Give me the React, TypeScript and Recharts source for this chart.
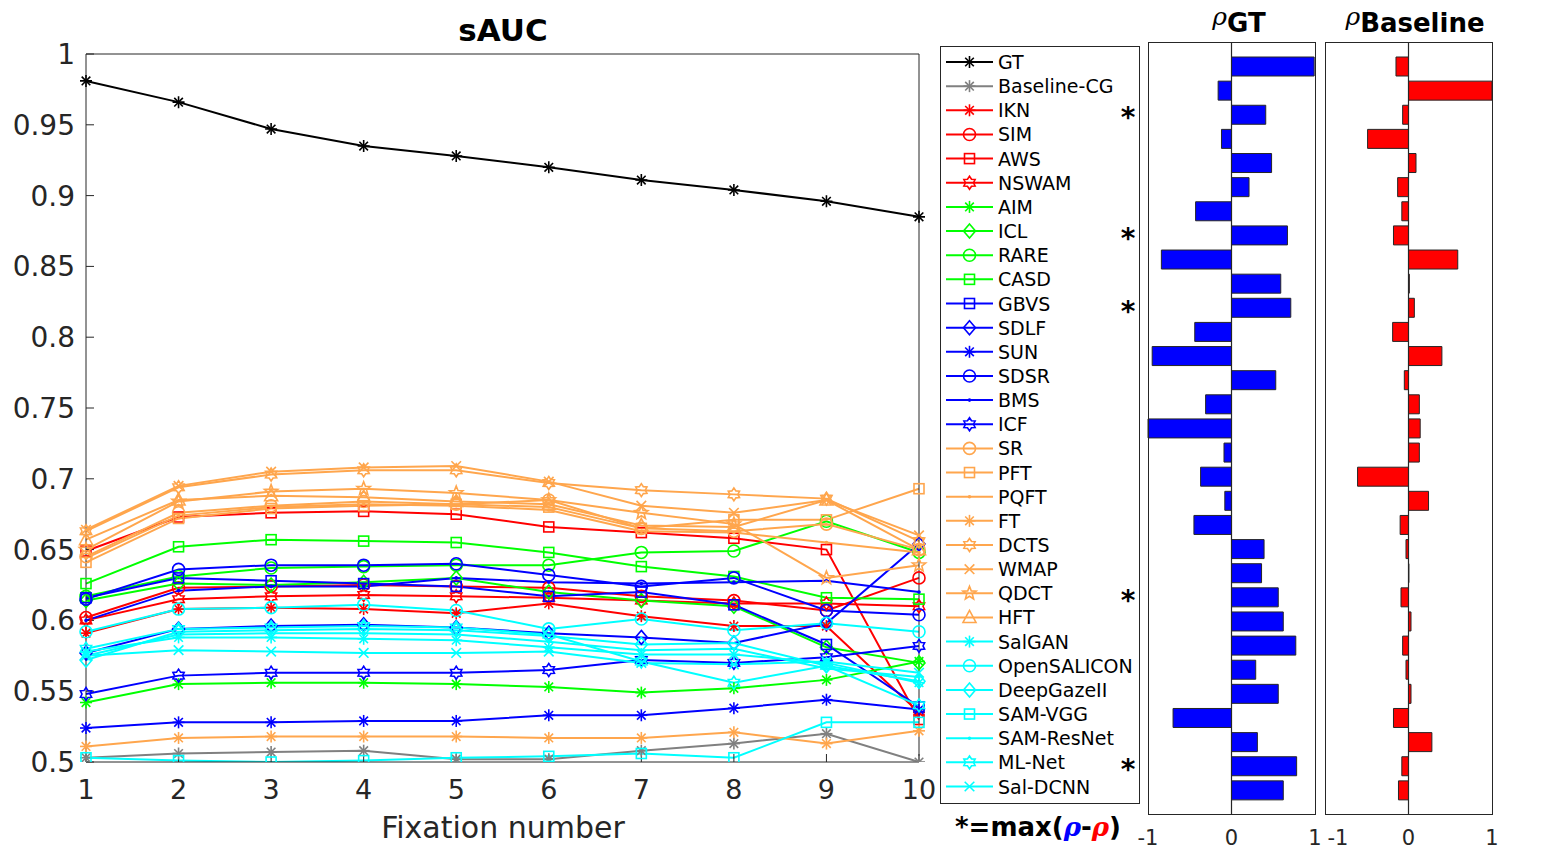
import React from 'react';
import { LineChart, Line, XAxis, YAxis, BarChart, Bar, ReferenceLine } from 'recharts';

const fixations = [1, 2, 3, 4, 5, 6, 7, 8, 9, 10];
const yTicks = [0.5, 0.55, 0.6, 0.65, 0.7, 0.75, 0.8, 0.85, 0.9, 0.95, 1];
const rhoTicks = [-1, 0, 1];

// sAUC per fixation number
const gt = [0.981, 0.966, 0.947, 0.935, 0.928, 0.920, 0.911, 0.904, 0.896, 0.885];
const baselineCG = [0.503, 0.506, 0.507, 0.508, 0.502, 0.502, 0.508, 0.513, 0.520, 0.500];
const ikn = [0.591, 0.608, 0.609, 0.608, 0.605, 0.612, 0.603, 0.596, 0.596, 0.535];
const sim = [0.602, 0.623, 0.624, 0.625, 0.624, 0.623, 0.617, 0.614, 0.607, 0.630];
const aws = [0.649, 0.673, 0.676, 0.677, 0.675, 0.666, 0.662, 0.658, 0.650, 0.530];
const nswam = [0.600, 0.615, 0.617, 0.618, 0.617, 0.616, 0.614, 0.612, 0.612, 0.610];
const aim = [0.542, 0.555, 0.556, 0.556, 0.555, 0.553, 0.549, 0.552, 0.558, 0.571];
const icl = [0.614, 0.626, 0.625, 0.627, 0.630, 0.620, 0.614, 0.610, 0.581, 0.570];
const rare = [0.617, 0.631, 0.637, 0.638, 0.639, 0.639, 0.648, 0.649, 0.670, 0.648];
const casd = [0.626, 0.652, 0.657, 0.656, 0.655, 0.648, 0.638, 0.631, 0.616, 0.615];
const gbvs = [0.616, 0.630, 0.628, 0.626, 0.624, 0.617, 0.620, 0.611, 0.583, 0.539];
const sdlf = [0.577, 0.594, 0.596, 0.597, 0.595, 0.591, 0.588, 0.584, 0.598, 0.654];
const sun = [0.524, 0.528, 0.528, 0.529, 0.529, 0.533, 0.533, 0.538, 0.544, 0.537];
const sdsr = [0.615, 0.636, 0.639, 0.639, 0.640, 0.632, 0.624, 0.630, 0.607, 0.604];
const bms = [0.600, 0.621, 0.624, 0.624, 0.630, 0.627, 0.626, 0.627, 0.628, 0.620];
const icf = [0.548, 0.561, 0.563, 0.563, 0.563, 0.565, 0.572, 0.570, 0.574, 0.582];
const sr = [0.645, 0.676, 0.681, 0.684, 0.682, 0.685, 0.665, 0.663, 0.668, 0.650];
const pft = [0.641, 0.672, 0.679, 0.681, 0.682, 0.680, 0.665, 0.671, 0.671, 0.693];
const pqft = [0.644, 0.674, 0.680, 0.682, 0.681, 0.678, 0.663, 0.662, 0.655, 0.648];
const ft = [0.511, 0.517, 0.518, 0.518, 0.518, 0.517, 0.517, 0.521, 0.513, 0.522];
const dcts = [0.663, 0.694, 0.703, 0.706, 0.706, 0.697, 0.692, 0.689, 0.686, 0.656];
const wmap = [0.664, 0.695, 0.705, 0.708, 0.709, 0.698, 0.681, 0.676, 0.685, 0.660];
const qdct = [0.650, 0.684, 0.691, 0.693, 0.690, 0.685, 0.676, 0.668, 0.630, 0.639];
const hft = [0.657, 0.685, 0.688, 0.687, 0.684, 0.682, 0.667, 0.666, 0.685, 0.650];
const salgan = [0.578, 0.588, 0.588, 0.587, 0.586, 0.581, 0.576, 0.576, 0.570, 0.556];
const openSalicon = [0.592, 0.608, 0.609, 0.611, 0.607, 0.594, 0.601, 0.593, 0.598, 0.592];
const deepGaze = [0.572, 0.592, 0.593, 0.594, 0.593, 0.589, 0.583, 0.584, 0.568, 0.557];
const samVgg = [0.503, 0.501, 0.500, 0.501, 0.503, 0.504, 0.506, 0.503, 0.528, 0.528];
const samResNet = [0.575, 0.590, 0.591, 0.591, 0.590, 0.585, 0.579, 0.580, 0.566, 0.560];
const mlNet = [0.580, 0.594, 0.595, 0.596, 0.595, 0.590, 0.571, 0.556, 0.568, 0.540];
const salDcnn = [0.575, 0.579, 0.578, 0.577, 0.577, 0.578, 0.570, 0.569, 0.571, 0.563];

// correlation with GT / baseline, same order as legend
const rhoGT = [0.99, -0.16, 0.41, -0.12, 0.48, 0.21, -0.43, 0.67, -0.84, 0.59, 0.71, -0.44, -0.95, 0.53, -0.31, -1.0,
  -0.09, -0.37, -0.08, -0.45, 0.39, 0.36, 0.56, 0.62, 0.77, 0.29, 0.56, -0.70, 0.31, 0.78, 0.62];
const rhoBaseline = [-0.15, 1.0, -0.07, -0.49, 0.09, -0.13, -0.08, -0.18, 0.59, 0.01, 0.07, -0.19, 0.40, -0.05, 0.13, 0.14,
  0.13, -0.61, 0.24, -0.10, -0.03, 0.005, -0.09, 0.03, -0.07, -0.03, 0.03, -0.18, 0.28, -0.08, -0.12];
const starred = ['IKN', 'ICL', 'GBVS', 'QDCT', 'ML-Net'];

const ORANGE = '#ffa64d';
const INK = '#262626';

const series = [
  { name: 'GT', values: gt, color: '#000000', marker: 'asterisk' },
  { name: 'Baseline-CG', values: baselineCG, color: '#808080', marker: 'asterisk' },
  { name: 'IKN', values: ikn, color: '#ff0000', marker: 'asterisk' },
  { name: 'SIM', values: sim, color: '#ff0000', marker: 'circle' },
  { name: 'AWS', values: aws, color: '#ff0000', marker: 'square' },
  { name: 'NSWAM', values: nswam, color: '#ff0000', marker: 'hexagram' },
  { name: 'AIM', values: aim, color: '#00ff00', marker: 'asterisk' },
  { name: 'ICL', values: icl, color: '#00ff00', marker: 'diamond' },
  { name: 'RARE', values: rare, color: '#00ff00', marker: 'circle' },
  { name: 'CASD', values: casd, color: '#00ff00', marker: 'square' },
  { name: 'GBVS', values: gbvs, color: '#0000ff', marker: 'square' },
  { name: 'SDLF', values: sdlf, color: '#0000ff', marker: 'diamond' },
  { name: 'SUN', values: sun, color: '#0000ff', marker: 'asterisk' },
  { name: 'SDSR', values: sdsr, color: '#0000ff', marker: 'circle' },
  { name: 'BMS', values: bms, color: '#0000ff', marker: 'point' },
  { name: 'ICF', values: icf, color: '#0000ff', marker: 'hexagram' },
  { name: 'SR', values: sr, color: ORANGE, marker: 'circle' },
  { name: 'PFT', values: pft, color: ORANGE, marker: 'square' },
  { name: 'PQFT', values: pqft, color: ORANGE, marker: 'point' },
  { name: 'FT', values: ft, color: ORANGE, marker: 'asterisk' },
  { name: 'DCTS', values: dcts, color: ORANGE, marker: 'hexagram' },
  { name: 'WMAP', values: wmap, color: ORANGE, marker: 'x' },
  { name: 'QDCT', values: qdct, color: ORANGE, marker: 'pentagram' },
  { name: 'HFT', values: hft, color: ORANGE, marker: 'triangle' },
  { name: 'SalGAN', values: salgan, color: '#00ffff', marker: 'asterisk' },
  { name: 'OpenSALICON', values: openSalicon, color: '#00ffff', marker: 'circle' },
  { name: 'DeepGazeII', values: deepGaze, color: '#00ffff', marker: 'diamond' },
  { name: 'SAM-VGG', values: samVgg, color: '#00ffff', marker: 'square' },
  { name: 'SAM-ResNet', values: samResNet, color: '#00ffff', marker: 'point' },
  { name: 'ML-Net', values: mlNet, color: '#00ffff', marker: 'hexagram' },
  { name: 'Sal-DCNN', values: salDcnn, color: '#00ffff', marker: 'x' },
];

const lineData = fixations.map((f, i) => {
  const row: Record<string, number> = { fix: f };
  series.forEach((s) => { row[s.name] = s.values[i]; });
  return row;
});

const barData = series.map((s, i) => ({ name: s.name, gt: rhoGT[i], base: rhoBaseline[i] }));

const starPoints = (cx: number, cy: number, n: number, ro: number, ri: number) =>
  Array.from({ length: 2 * n }, (_, k) => {
    const a = -Math.PI / 2 + (k * Math.PI) / n;
    const r = k % 2 ? ri : ro;
    return `${cx + r * Math.cos(a)},${cy + r * Math.sin(a)}`;
  }).join(' ');

const Marker = ({ cx, cy, kind, color }: { cx?: number; cy?: number; kind: string; color: string }) => {
  if (cx == null || cy == null) return null;
  const sw = 1.6;
  switch (kind) {
    case 'asterisk': {
      const s = 6, d = 4.3;
      return (
        <g stroke={color} strokeWidth={sw}>
          <line x1={cx} y1={cy - s} x2={cx} y2={cy + s} />
          <line x1={cx - s} y1={cy} x2={cx + s} y2={cy} />
          <line x1={cx - d} y1={cy - d} x2={cx + d} y2={cy + d} />
          <line x1={cx - d} y1={cy + d} x2={cx + d} y2={cy - d} />
        </g>
      );
    }
    case 'circle':
      return <circle cx={cx} cy={cy} r={6} fill="none" stroke={color} strokeWidth={sw} />;
    case 'square':
      return <rect x={cx - 5} y={cy - 5} width={10} height={10} fill="none" stroke={color} strokeWidth={sw} />;
    case 'diamond':
      return <polygon points={`${cx},${cy - 7} ${cx + 6},${cy} ${cx},${cy + 7} ${cx - 6},${cy}`} fill="none" stroke={color} strokeWidth={sw} />;
    case 'triangle':
      return <polygon points={`${cx},${cy - 7} ${cx + 6.5},${cy + 5} ${cx - 6.5},${cy + 5}`} fill="none" stroke={color} strokeWidth={sw} />;
    case 'hexagram':
      return <polygon points={starPoints(cx, cy, 6, 6.5, 4)} fill="none" stroke={color} strokeWidth={sw} />;
    case 'pentagram':
      return <polygon points={starPoints(cx, cy, 5, 7, 3)} fill="none" stroke={color} strokeWidth={sw} />;
    case 'x': {
      const d = 4.8;
      return (
        <g stroke={color} strokeWidth={sw}>
          <line x1={cx - d} y1={cy - d} x2={cx + d} y2={cy + d} />
          <line x1={cx - d} y1={cy + d} x2={cx + d} y2={cy - d} />
        </g>
      );
    }
    case 'point':
      return <circle cx={cx} cy={cy} r={1.8} fill={color} />;
    default:
      return null;
  }
};

const legendX = 940;
const legendY = 46;
const rowY = (i: number) => 62 + i * 24.15;

// plotLeft is where the -1 end of the axis sits on the page
const RhoBars = ({ plotLeft, dataKey, fill, shiftFirst }: { plotLeft: number; dataKey: string; fill: string; shiftFirst: number }) => (
  <div style={{ position: 'absolute', left: plotLeft - 20, top: 0 }}>
    <BarChart width={205} height={855} data={barData} layout="vertical" margin={{ top: 42, right: 18, bottom: 11, left: 20 }}>
      <XAxis type="number" domain={[-1, 1]} ticks={rhoTicks} interval={0} axisLine={false} tickLine={false} tickMargin={10}
        height={30}
        tick={(p: any) => (
          <text x={p.x + (p.payload.value === -1 ? shiftFirst : 0)} y={p.y} dy="0.71em" textAnchor="middle"
            fontSize={21} fill={INK} fontFamily="DejaVu Sans">{p.payload.value}</text>
        )} />
      <YAxis type="category" dataKey="name" hide padding={{ top: 12, bottom: 12 }} />
      <ReferenceLine x={0} stroke={INK} strokeWidth={1.2} />
      <Bar dataKey={dataKey} fill={fill} stroke={INK} strokeWidth={1} barSize={19} isAnimationActive={false} />
    </BarChart>
  </div>
);

export default function App() {
  return (
    <div style={{ position: 'absolute', left: 0, top: 0, width: 1558, height: 855, background: '#fff', fontFamily: 'DejaVu Sans' }}>
      <div style={{ position: 'absolute', left: 0, top: 0 }}>
        <LineChart width={940} height={855} data={lineData} margin={{ top: 24, right: 0, bottom: 63, left: 26 }}>
          <XAxis dataKey="fix" type="number" domain={[1, 10]} ticks={fixations} interval={0} stroke={INK} tickSize={-8} tickMargin={26}
            tick={{ fontSize: 27, fill: INK, fontFamily: 'DejaVu Sans' }} height={30} />
          <XAxis xAxisId="top" orientation="top" dataKey="fix" type="number" domain={[1, 10]} ticks={fixations}
            stroke={INK} tickSize={-8} tick={false} height={30} />
          <YAxis type="number" domain={[0.5, 1]} ticks={yTicks} interval={0} stroke={INK} tickSize={-8} tickMargin={19} width={60}
            allowDataOverflow tickFormatter={(v: number) => String(Number(v.toFixed(2)))}
            tick={{ fontSize: 28, fill: INK, fontFamily: 'DejaVu Sans' }} />
          <YAxis yAxisId="right" orientation="right" type="number" domain={[0.5, 1]} ticks={yTicks} stroke={INK}
            tickSize={-8} tick={false} width={21} />
          {series.map((s) => (
            <Line key={s.name} type="linear" dataKey={s.name} stroke={s.color} strokeWidth={2} activeDot={false}
              isAnimationActive={false}
              dot={(p: any) => <Marker key={`${s.name}-${p.index}`} cx={p.cx} cy={p.cy} kind={s.marker} color={s.color} />} />
          ))}
        </LineChart>
      </div>

      <RhoBars plotLeft={1148} dataKey="gt" fill="#0000ff" shiftFirst={0} />
      <RhoBars plotLeft={1325} dataKey="base" fill="#ff0000" shiftFirst={13} />

      <svg width={1558} height={855} style={{ position: 'absolute', left: 0, top: 0, pointerEvents: 'none' }} fontFamily="DejaVu Sans">
        <text x={503} y={41} textAnchor="middle" fontSize={31} fontWeight="bold" fill="#000">sAUC</text>
        <text x={503} y={838} textAnchor="middle" fontSize={30} fill={INK}>Fixation number</text>

        <rect x={legendX + 0.5} y={legendY + 0.5} width={199} height={757} fill="#fff" stroke={INK} strokeWidth={1} />
        {series.map((s, i) => (
          <g key={s.name}>
            <line x1={946} y1={rowY(i)} x2={993} y2={rowY(i)} stroke={s.color} strokeWidth={2} />
            <Marker cx={969.5} cy={rowY(i)} kind={s.marker} color={s.color} />
            <text x={998} y={rowY(i) + 7} fontSize={19} fill="#000">{s.name}</text>
            {starred.includes(s.name) && (
              <text x={1128} y={rowY(i) + 17} textAnchor="middle" fontSize={28} fontWeight="bold" fill="#000">*</text>
            )}
          </g>
        ))}

        <text x={955} y={836} fontSize={26} fontWeight="bold" fill="#000">
          <tspan>*=max(</tspan>
          <tspan fill="#0000ff" fontStyle="italic" fontFamily="DejaVu Serif">ρ</tspan>
          <tspan>-</tspan>
          <tspan fill="#ff0000" fontStyle="italic" fontFamily="DejaVu Serif">ρ</tspan>
          <tspan>)</tspan>
        </text>

        <rect x={1148.5} y={42.5} width={167} height={772} fill="none" stroke={INK} strokeWidth={1} />
        <rect x={1325.5} y={42.5} width={167} height={772} fill="none" stroke={INK} strokeWidth={1} />

        <text x={1239} y={32} textAnchor="middle" fill="#000">
          <tspan fontSize={25} fontStyle="italic" fontFamily="DejaVu Serif" dy={-7}>ρ</tspan>
          <tspan fontSize={26} fontWeight="bold" dy={7}>GT</tspan>
        </text>
        <text x={1415} y={32} textAnchor="middle" fill="#000">
          <tspan fontSize={25} fontStyle="italic" fontFamily="DejaVu Serif" dy={-7}>ρ</tspan>
          <tspan fontSize={26} fontWeight="bold" dy={7}>Baseline</tspan>
        </text>
      </svg>
    </div>
  );
}
